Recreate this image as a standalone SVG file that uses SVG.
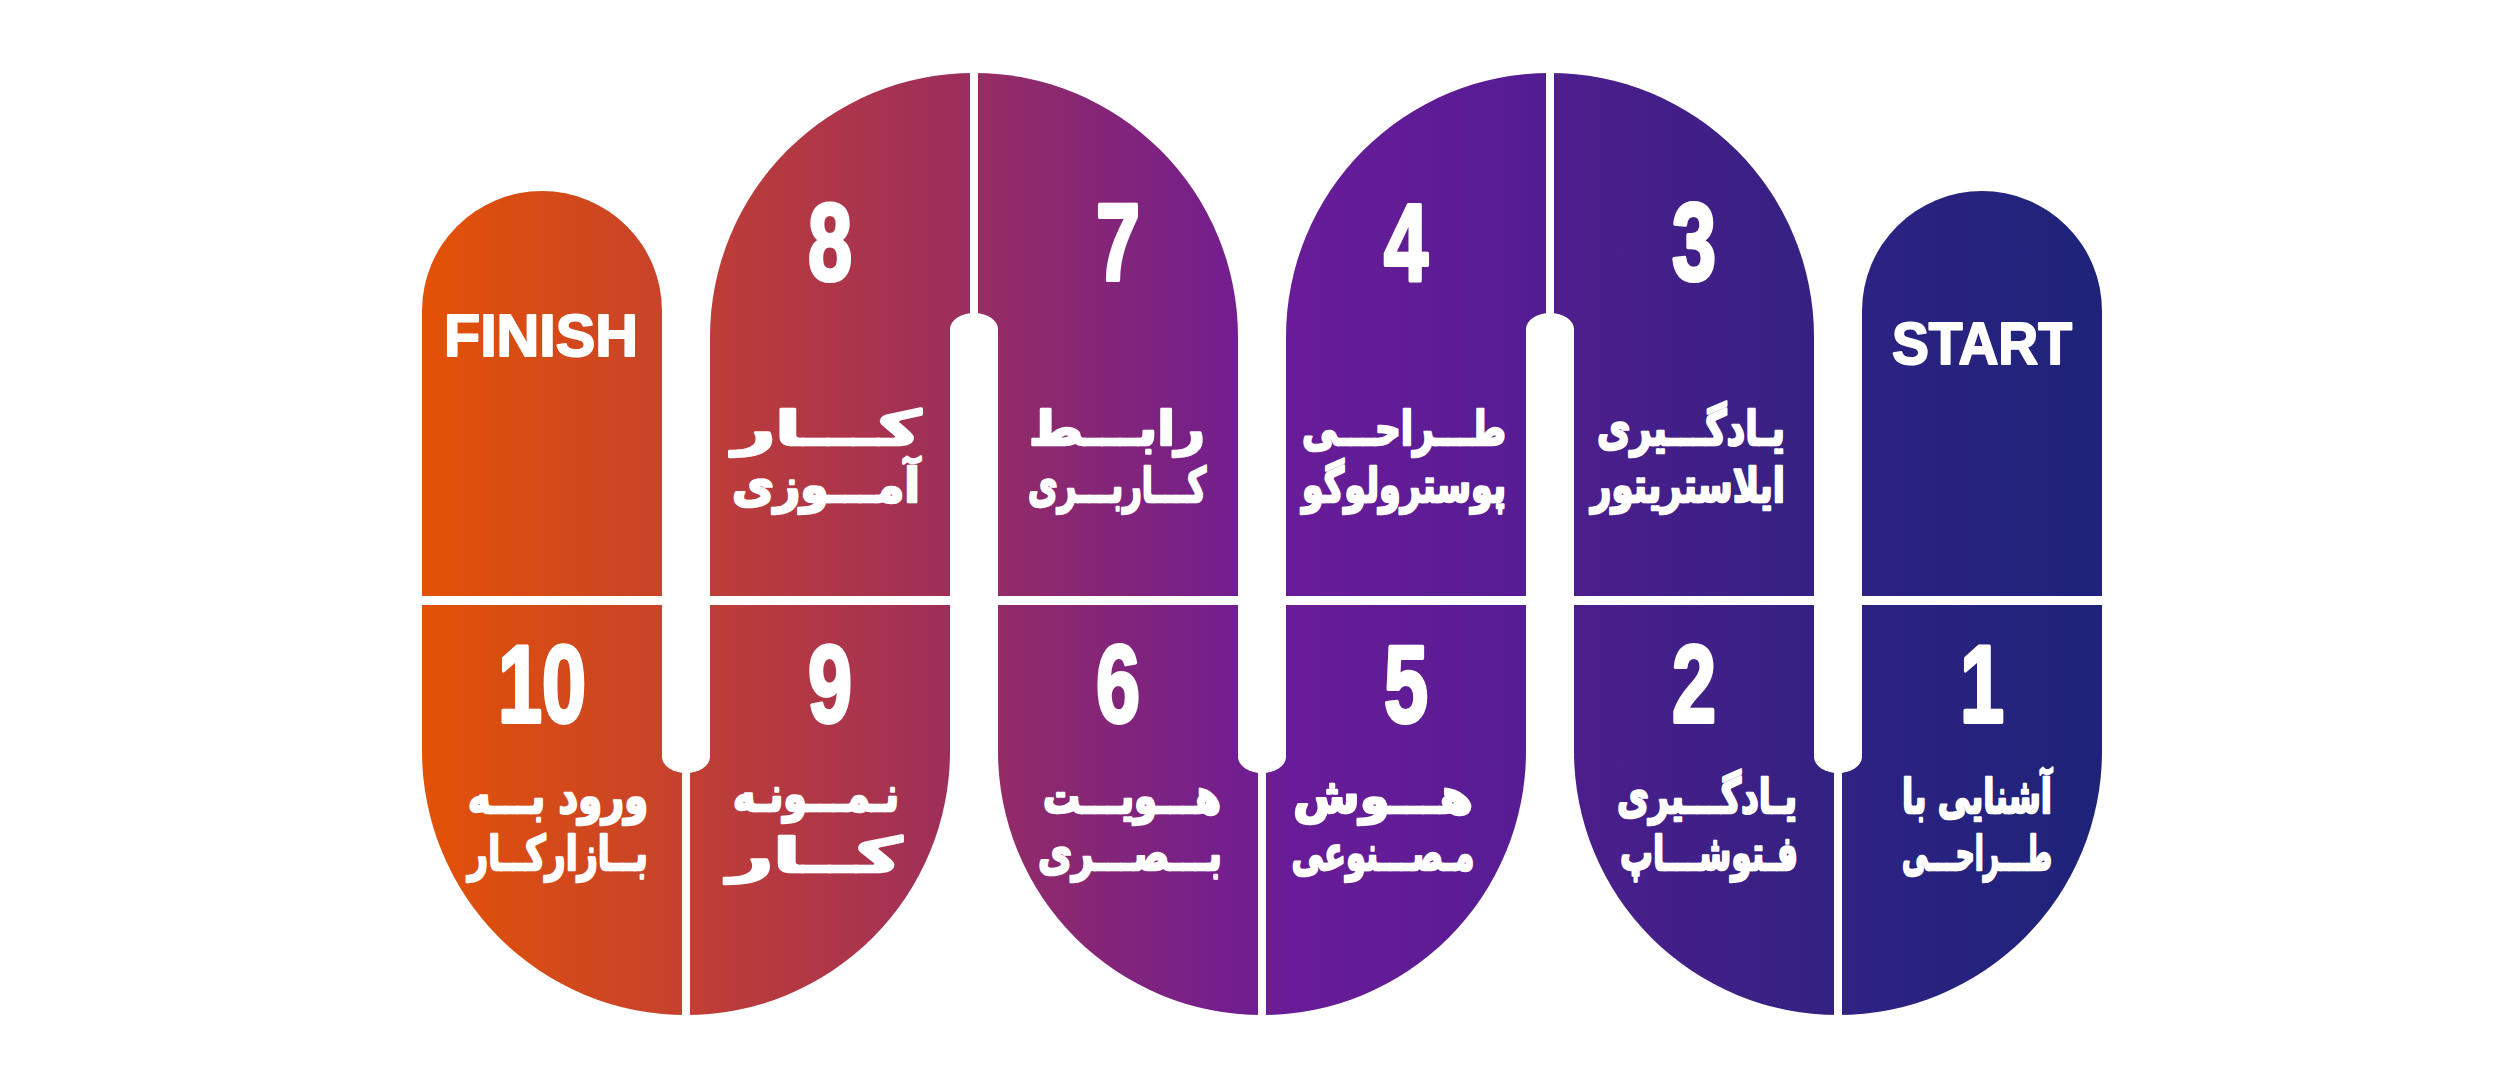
<svg xmlns="http://www.w3.org/2000/svg" width="2500" height="1080" viewBox="0 0 2500 1080">
<defs>
<linearGradient id="g" gradientUnits="userSpaceOnUse" x1="422" y1="0" x2="2102" y2="0">
<stop offset="0" stop-color="#E35205"/>
<stop offset="0.1429" stop-color="#C8432A"/>
<stop offset="0.1714" stop-color="#BE3D37"/>
<stop offset="0.3143" stop-color="#9E2F5A"/>
<stop offset="0.3429" stop-color="#932B66"/>
<stop offset="0.4857" stop-color="#721E8F"/>
<stop offset="0.5143" stop-color="#6A1C98"/>
<stop offset="0.6571" stop-color="#561C93"/>
<stop offset="0.6857" stop-color="#4C1E8D"/>
<stop offset="0.8286" stop-color="#352182"/>
<stop offset="0.8571" stop-color="#2D2282"/>
<stop offset="1" stop-color="#1E2379"/>
</linearGradient>
<style>
.p{fill:url(#g)}
.sep{fill:#FFFFFF}
.num{font-family:"Liberation Sans",Arial,sans-serif;font-weight:bold;font-size:110px;fill:#FFFFFF;stroke:#FFFFFF;stroke-width:4;stroke-linejoin:round;text-anchor:middle}
.en{font-family:"Liberation Sans",Arial,sans-serif;font-weight:bold;font-size:59px;fill:#FFFFFF;stroke:#FFFFFF;stroke-width:2;stroke-linejoin:round;text-anchor:middle}
.fa{font-family:"DejaVu Sans","Noto Sans",sans-serif;font-weight:bold;font-size:48px;fill:#FFFFFF;stroke:#FFFFFF;stroke-width:2.5;stroke-linejoin:round;text-anchor:middle;direction:rtl}
</style>
</defs>
<rect width="2500" height="1080" fill="#FFFFFF"/>

<g id="node-finish">
<path class="p" d="M422,596 V311 A120,120 0 0 1 662,311 V596 Z"/>
<text class="en" x="541" y="356" textLength="194" lengthAdjust="spacingAndGlyphs">FINISH</text>
</g>
<g id="node-8">
<path class="p" d="M710,596 V337 A264,264 0 0 1 974,73 V596 Z"/>
<text class="num" transform="translate(830,280) scale(0.72,1)">8</text>
<text class="fa" x="827" y="445" textLength="188" lengthAdjust="spacingAndGlyphs">کـــار</text>
<text class="fa" x="826" y="502" textLength="188" lengthAdjust="spacingAndGlyphs">آمـــوزی</text>
</g>
<g id="node-7">
<path class="p" d="M974,596 V73 A264,264 0 0 1 1238,337 V596 Z"/>
<text class="num" transform="translate(1118,280) scale(0.72,1)">7</text>
<text class="fa" x="1117" y="445" textLength="176" lengthAdjust="spacingAndGlyphs">رابـــط</text>
<text class="fa" x="1117" y="502" textLength="178" lengthAdjust="spacingAndGlyphs">کـــاربـــری</text>
</g>
<g id="node-4">
<path class="p" d="M1286,596 V337 A264,264 0 0 1 1550,73 V596 Z"/>
<text class="num" transform="translate(1406,280) scale(0.72,1)">4</text>
<text class="fa" x="1404" y="445" textLength="204" lengthAdjust="spacingAndGlyphs">طـــراحـــی</text>
<text class="fa" x="1404" y="502" textLength="204" lengthAdjust="spacingAndGlyphs">پوسترولوگو</text>
</g>
<g id="node-3">
<path class="p" d="M1550,596 V73 A264,264 0 0 1 1814,337 V596 Z"/>
<text class="num" transform="translate(1694,280) scale(0.72,1)">3</text>
<text class="fa" x="1691" y="445" textLength="188" lengthAdjust="spacingAndGlyphs">یـادگـــیری</text>
<text class="fa" x="1688" y="502" textLength="194" lengthAdjust="spacingAndGlyphs">ایلاستریتور</text>
</g>
<g id="node-start">
<path class="p" d="M1862,596 V311 A120,120 0 0 1 2102,311 V596 Z"/>
<text class="en" x="1982" y="364" textLength="180" lengthAdjust="spacingAndGlyphs">START</text>
</g>

<g id="node-10">
<path class="p" d="M422,605 V751 A264,264 0 0 0 686,1015 V605 Z"/>
<text class="num" transform="translate(542,722) scale(0.72,1)">10</text>
<text class="fa" x="558" y="813" textLength="180" lengthAdjust="spacingAndGlyphs">ورود بـــه</text>
<text class="fa" x="558" y="870" textLength="180" lengthAdjust="spacingAndGlyphs">بــازارکــار</text>
</g>
<g id="node-9">
<path class="p" d="M686,605 V1015 A264,264 0 0 0 950,751 V605 Z"/>
<text class="num" transform="translate(830,722) scale(0.72,1)">9</text>
<text class="fa" x="816" y="811" textLength="166" lengthAdjust="spacingAndGlyphs">نـمـــونـه</text>
<text class="fa" x="815" y="872" textLength="174" lengthAdjust="spacingAndGlyphs">کــار</text>
</g>
<g id="node-6">
<path class="p" d="M998,605 V751 A264,264 0 0 0 1262,1015 V605 Z"/>
<text class="num" transform="translate(1118,722) scale(0.72,1)">6</text>
<text class="fa" x="1132" y="813" textLength="178" lengthAdjust="spacingAndGlyphs">هـــویـــت</text>
<text class="fa" x="1130" y="870" textLength="184" lengthAdjust="spacingAndGlyphs">بـــصـــری</text>
</g>
<g id="node-5">
<path class="p" d="M1262,605 V1015 A264,264 0 0 0 1526,751 V605 Z"/>
<text class="num" transform="translate(1406,722) scale(0.72,1)">5</text>
<text class="fa" x="1383" y="813" textLength="180" lengthAdjust="spacingAndGlyphs">هـــوش</text>
<text class="fa" x="1383" y="870" textLength="183" lengthAdjust="spacingAndGlyphs">مـصـــنوعی</text>
</g>
<g id="node-2">
<path class="p" d="M1574,605 V751 A264,264 0 0 0 1838,1015 V605 Z"/>
<text class="num" transform="translate(1694,722) scale(0.72,1)">2</text>
<text class="fa" x="1707" y="813" textLength="180" lengthAdjust="spacingAndGlyphs">یـادگـــیری</text>
<text class="fa" x="1709" y="870" textLength="178" lengthAdjust="spacingAndGlyphs">فـتوشـــاپ</text>
</g>
<g id="node-1">
<path class="p" d="M1838,605 V1015 A264,264 0 0 0 2102,751 V605 Z"/>
<text class="num" transform="translate(1982,722) scale(0.72,1)">1</text>
<text class="fa" x="1977" y="813" textLength="150" lengthAdjust="spacingAndGlyphs">آشنایی با</text>
<text class="fa" x="1977" y="870" textLength="150" lengthAdjust="spacingAndGlyphs">طـــراحـــی</text>
</g>

<g id="connectors">
<rect class="sep" x="970" y="60" width="8" height="280"/>
<path class="sep" d="M950,600 V329 A24,16 0 0 1 998,329 V600 Z"/>
<rect class="sep" x="1546" y="60" width="8" height="280"/>
<path class="sep" d="M1526,600 V329 A24,16 0 0 1 1574,329 V600 Z"/>
<rect class="sep" x="682" y="760" width="8" height="265"/>
<path class="sep" d="M662,600 V757 A24,16 0 0 0 710,757 V600 Z"/>
<rect class="sep" x="1258" y="760" width="8" height="265"/>
<path class="sep" d="M1238,600 V757 A24,16 0 0 0 1286,757 V600 Z"/>
<rect class="sep" x="1834" y="760" width="8" height="265"/>
<path class="sep" d="M1814,600 V757 A24,16 0 0 0 1862,757 V600 Z"/>
</g>
</svg>
